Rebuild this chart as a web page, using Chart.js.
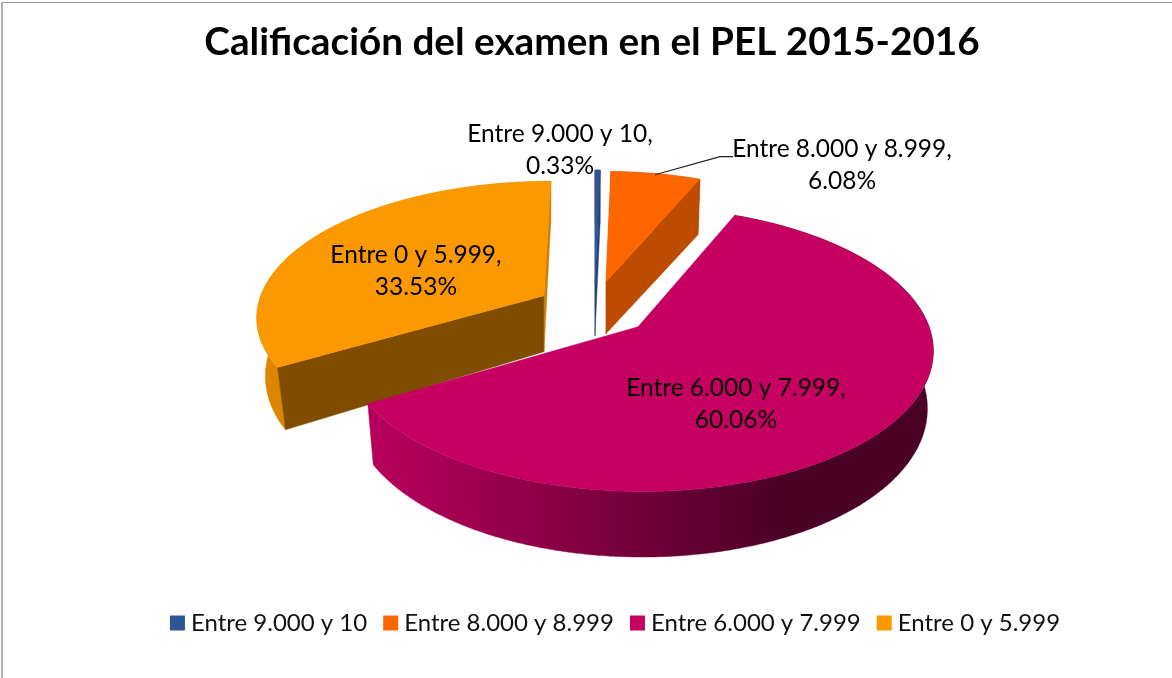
<!DOCTYPE html>
<html lang="es">
<head>
<meta charset="utf-8">
<style>
html,body{margin:0;padding:0;background:#fff;overflow:hidden}
#wrap{position:relative;width:1172px;height:678px}
canvas{position:absolute;left:0;top:0}
#lineTop{position:absolute;left:1px;top:2px;right:0;height:1px;background:#999}
#lineLeft{position:absolute;left:1px;top:2px;bottom:0;width:2px;background:#b0b0b0}
</style>
<script src="https://cdn.jsdelivr.net/npm/chart.js@4"></script>
</head>
<body>
<div id="wrap">
<canvas id="c" width="1172" height="678"></canvas>
<div id="lineTop"></div><div id="lineLeft"></div>
</div>
<script>
const titleText = "Calificación del examen en el PEL 2015-2016";
const categories = ["Entre 9.000 y 10", "Entre 8.000 y 8.999", "Entre 6.000 y 7.999", "Entre 0 y 5.999"];
const percentages = [0.33, 6.08, 60.06, 33.53];
const sliceColors = ["#2F5597", "#FF6600", "#C60060", "#FD9900"];

// Look of the tilted, exploded pie (offsets are relative to the pie centre, in pixels)
const squash = 0.48;
const sliceStyle = [
  {dx: 9,  dy: -44, p: 0.158, sx: 1,     sy: 0.95, shear: 0,     low: 0.98, depth: 52, depthSlope: 0,     outer: "#1F3A68", startWall: "#24437A", endWall: "#24437A"},
  {dx: 20, dy: -46, p: 0.158, sx: 0.95,  sy: 0.92, shear: 0,     low: 0.98, depth: 52, depthSlope: -0.03, outer: "#BD4B00", startWall: "#BD4B00", endWall: "#BD4B00"},
  {dx: 52, dy: -1,  p: 0.158, sx: 1.007, sy: 1,    shear: 0.026, low: 0.98, depth: 56, depthSlope: 0.23,  outer: null,      startWall: null,      endWall: null},
  {dx: -42,dy: -32, p: 0.14,  sx: 0.98,  sy: 0.94, shear: -0.06, low: 0.97, depth: 56, depthSlope: 0.3,   outer: "#DC8600", startWall: "#7F4C00", endWall: "#CC7E00"}
];
const paintOrder = [3, 0, 1, 2];
const labelOffsets = [[-26, -194], [256, -179], [150, 60], [-170, -73]];
const leaderOffsets = [[69, -153], [134, -171], [147, -171]];
const labelLineGap = 32;
const labelFont = "24.5px Lato";

const pie3d = {
  id: "pie3d",
  afterLayout(chart) {
    chart.legend.left += 32; chart.legend.right += 32;
    chart.titleBlock.left += 6; chart.titleBlock.right += 6;
  },
  beforeDatasetDraw(chart) {
    const ctx = chart.ctx;
    const arcs = chart.getDatasetMeta(0).data;
    const point = (arc, st, a, lower) => {
      const u = Math.cos(a), v = Math.sin(a), w = 1 - st.p * v;
      const R = arc.outerRadius;
      const py = v / w * R * squash * st.sy;
      let px = u / w * R * st.sx + st.shear * py;
      let y = py;
      if (lower) { px *= st.low; y = py * st.low + st.depth * (1 + st.depthSlope * v); }
      return [arc.x + st.dx + px, arc.y + st.dy + y];
    };
    const apex = (arc, st, lower) => [arc.x + st.dx, arc.y + st.dy + (lower ? st.depth : 0)];
    const arcPts = (arc, st, lower) => {
      const out = [], n = Math.max(4, Math.ceil((arc.endAngle - arc.startAngle) * 120));
      for (let i = 0; i <= n; i++) out.push(point(arc, st, arc.startAngle + (arc.endAngle - arc.startAngle) * i / n, lower));
      return out;
    };
    const fillPoly = (pts, fill) => {
      ctx.beginPath();
      pts.forEach((p, i) => i ? ctx.lineTo(p[0], p[1]) : ctx.moveTo(p[0], p[1]));
      ctx.closePath();
      ctx.fillStyle = fill;
      ctx.fill();
      ctx.strokeStyle = fill; ctx.lineWidth = 0.4; ctx.stroke();
    };
    ctx.save();
    paintOrder.forEach(i => {
      const arc = arcs[i], st = sliceStyle[i];
      const top = arcPts(arc, st, false), low = arcPts(arc, st, true);
      let outerFill = st.outer;
      if (!outerFill) {
        const xs = top.map(p => p[0]);
        const x0 = Math.min(...xs), span = Math.max(...xs) - x0;
        const g = ctx.createLinearGradient(x0 + 0.04 * span, 0, x0 + 0.735 * span, 0);
        g.addColorStop(0, "#B4005A");
        g.addColorStop(1, "#4B0026");
        outerFill = g;
      }
      fillPoly(top.concat(low.slice().reverse()), outerFill);
      if (st.startWall) fillPoly([apex(arc, st, false), top[0], low[0], apex(arc, st, true)], st.startWall);
      if (st.endWall) fillPoly([apex(arc, st, false), top[top.length - 1], low[low.length - 1], apex(arc, st, true)], st.endWall);
      fillPoly([apex(arc, st, false)].concat(top), arc.options.backgroundColor);
    });
    const first = arcs[0];
    ctx.beginPath();
    leaderOffsets.forEach((o, i) => i ? ctx.lineTo(first.x + o[0], first.y + o[1]) : ctx.moveTo(first.x + o[0], first.y + o[1]));
    ctx.strokeStyle = "#222"; ctx.lineWidth = 1.2; ctx.stroke();
    ctx.font = labelFont; ctx.fillStyle = "#000"; ctx.textAlign = "center"; ctx.textBaseline = "middle";
    arcs.forEach((arc, i) => {
      const x = arc.x + labelOffsets[i][0], y = arc.y + labelOffsets[i][1];
      ctx.fillText(categories[i] + ",", x, y);
      ctx.fillText(percentages[i].toFixed(2) + "%", x, y + labelLineGap);
    });
    ctx.restore();
    return false;
  }
};

new Chart(document.getElementById("c"), {
  type: "pie",
  data: {labels: categories, datasets: [{data: percentages, backgroundColor: sliceColors, borderWidth: 0}]},
  plugins: [pie3d],
  options: {
    responsive: false,
    animation: false,
    radius: 289,
    layout: {padding: {bottom: 33}},
    plugins: {
      tooltip: {enabled: false},
      title: {display: true, text: titleText, color: "#000", font: {family: "Lato", size: 38.7, weight: "700"}, padding: {top: 19, bottom: 1}},
      legend: {
        position: "bottom",
        labels: {usePointStyle: true, pointStyle: "rect", boxWidth: 3, boxHeight: 15, padding: 22, color: "#111", font: {family: "Lato", size: 24}}
      }
    }
  }
});
</script>
</body>
</html>
